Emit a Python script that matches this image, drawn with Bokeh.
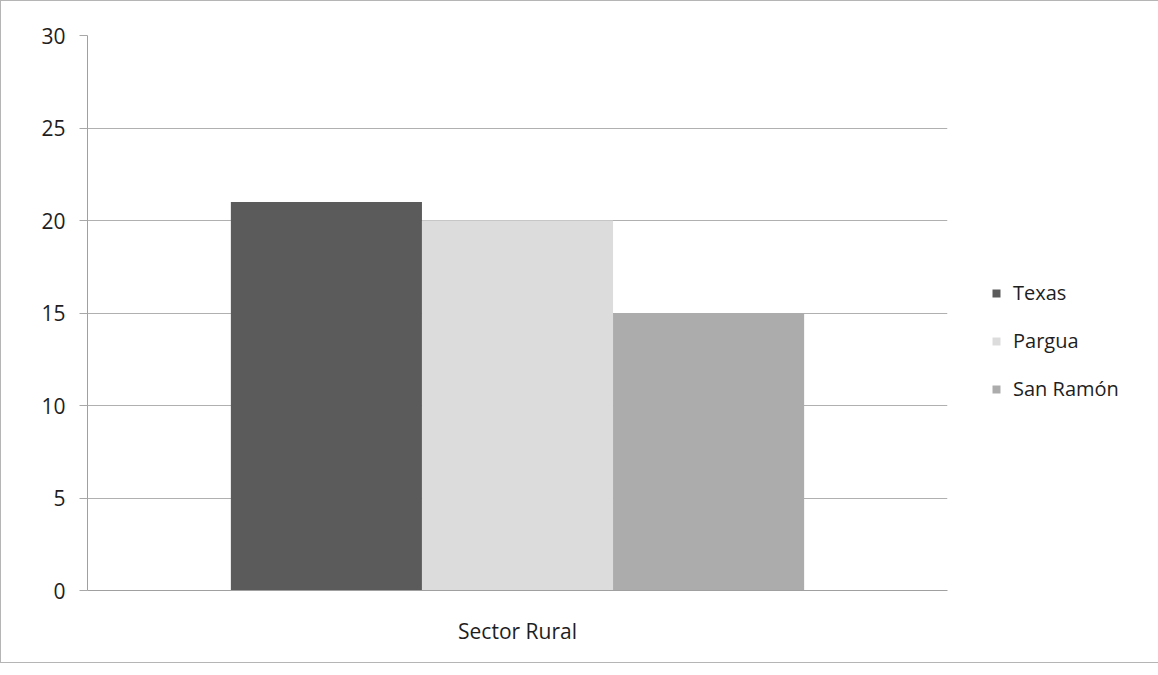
from bokeh.plotting import figure
from bokeh.models import ColumnDataSource, FactorRange, Range1d, Legend, LegendItem, FixedTicker
from bokeh.transform import dodge
from bokeh.embed import file_html
from bokeh.resources import INLINE

categories = ["Sector Rural"]
series = ["Texas", "Pargua", "San Ramón"]
texas = [21]
pargua = [20]
san_ramon = [15]
colors = ["#5b5b5b", "#dcdcdc", "#acacac"]
y_ticks = [0, 5, 10, 15, 20, 25, 30]

source = ColumnDataSource({"cat": categories, "Texas": texas, "Pargua": pargua, "San Ramón": san_ramon})

FONT = "Open Sans"

p = figure(x_range=FactorRange(*categories, range_padding=0), y_range=Range1d(0, 30),
           frame_width=860, frame_height=555, output_backend="svg", toolbar_location=None,
           min_border_left=86, min_border_right=190, min_border_top=34, min_border_bottom=72)
p.styles = {"border": "1px solid #b5b5b5"}
p.outline_line_color = None
p.background_fill_color = "white"

bw = 0.2222
offsets = [-bw, 0, bw]
items = []
for s, off, c in zip(series, offsets, colors):
    r = p.vbar(x=dodge("cat", off, range=p.x_range), top=s, width=bw, bottom=0,
               source=source, fill_color=c, line_color=None)
    items.append(LegendItem(label=s, renderers=[r]))

# axes
p.yaxis.ticker = FixedTicker(ticks=y_ticks)
p.yaxis.major_label_text_font = FONT
p.yaxis.major_label_text_font_size = "21px"
p.yaxis.major_label_text_color = "#1e1e1e"
p.yaxis.major_label_standoff = 14
p.yaxis.major_tick_out = 8
p.yaxis.major_tick_in = 0
p.yaxis.minor_tick_line_color = None
p.yaxis.major_tick_line_color = "#a8a8a8"
p.yaxis.axis_line_color = "#a0a0a0"

p.xaxis.major_label_text_font = FONT
p.xaxis.major_label_text_font_size = "21px"
p.xaxis.major_label_text_color = "#1e1e1e"
p.xaxis.major_label_standoff = 20
p.xaxis.major_tick_line_color = None
p.xaxis.axis_line_color = "#a0a0a0"

p.xgrid.grid_line_color = None
p.ygrid.grid_line_color = "#b0b0b0"
p.ygrid.grid_line_width = 1.2

legend = Legend(items=items, location=(44, 188), orientation="vertical",
                background_fill_alpha=0, border_line_color=None,
                label_text_font=FONT, label_text_font_size="20px", label_text_color="#1e1e1e",
                glyph_width=10, glyph_height=10, label_height=26, spacing=21,
                padding=0, margin=0, label_standoff=12)
p.add_layout(legend, "right")

open("out.html", "w").write(file_html(p, INLINE))
